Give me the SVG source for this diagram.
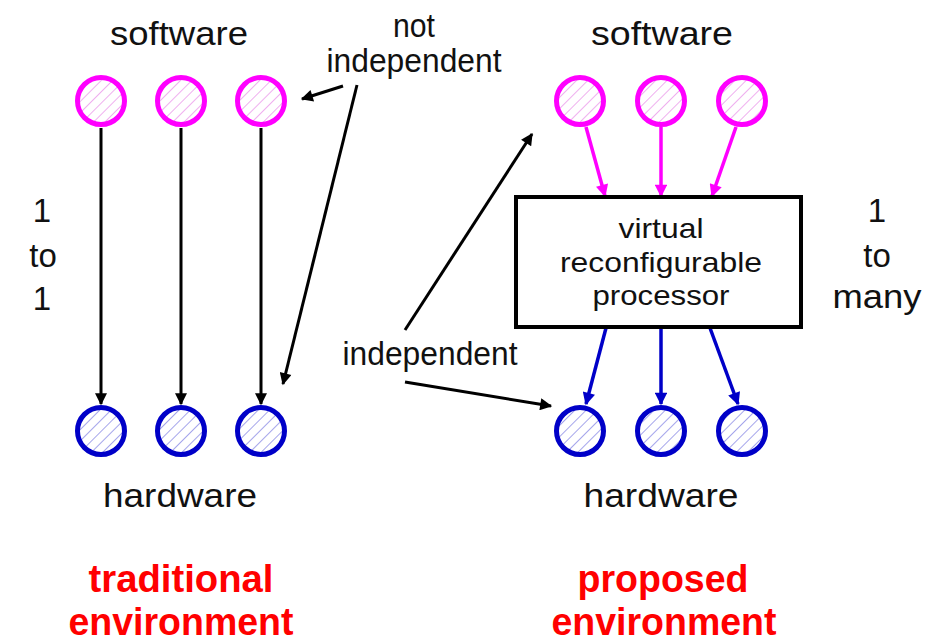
<svg xmlns="http://www.w3.org/2000/svg" width="925" height="642" viewBox="0 0 925 642">
<defs>
<pattern id="hp" patternUnits="userSpaceOnUse" width="8" height="8" patternTransform="rotate(-45)">
<rect width="8" height="8" fill="#fff"/><line x1="0" y1="0" x2="8" y2="0" stroke="#ec9bec" stroke-width="1.6"/>
</pattern>
<pattern id="hb" patternUnits="userSpaceOnUse" width="8" height="8" patternTransform="rotate(-45)">
<rect width="8" height="8" fill="#fff"/><line x1="0" y1="0" x2="8" y2="0" stroke="#8f8fe6" stroke-width="1.6"/>
</pattern>
<marker id="ak" viewBox="0 0 10 10" refX="9" refY="5" markerWidth="4.5" markerHeight="4" orient="auto" markerUnits="strokeWidth"><path d="M0,0 L10,5 L0,10 z" fill="#000"/></marker>
<marker id="am" viewBox="0 0 10 10" refX="9" refY="5" markerWidth="4" markerHeight="3.6" orient="auto" markerUnits="strokeWidth"><path d="M0,0 L10,5 L0,10 z" fill="#ff00ff"/></marker>
<marker id="ab" viewBox="0 0 10 10" refX="9" refY="5" markerWidth="4" markerHeight="3.6" orient="auto" markerUnits="strokeWidth"><path d="M0,0 L10,5 L0,10 z" fill="#0000c8"/></marker>
</defs>
<style>
.t{font-family:"Liberation Sans",Arial,sans-serif;font-size:33px;fill:#111;text-anchor:middle}
.bx{font-size:28px}
.r{font-family:"Liberation Sans",Arial,sans-serif;font-size:38px;font-weight:bold;fill:#ff0000;text-anchor:middle}
.sw{fill:url(#hp);stroke:#ff00ff;stroke-width:5}
.hw{fill:url(#hb);stroke:#0000c8;stroke-width:5}
.k{stroke:#000;stroke-width:3;fill:none;marker-end:url(#ak)}
.m{stroke:#ff00ff;stroke-width:3.5;fill:none;marker-end:url(#am)}
.b{stroke:#0000c8;stroke-width:3.5;fill:none;marker-end:url(#ab)}
</style>
<rect width="925" height="642" fill="#fff"/>
<g id="connectors">
<line class="k" x1="101" y1="128" x2="101" y2="404"/>
<line class="k" x1="181" y1="128" x2="181" y2="404"/>
<line class="k" x1="261" y1="128" x2="261" y2="404"/>
<line class="k" x1="343" y1="86" x2="302" y2="99"/>
<line class="k" x1="357" y1="85" x2="283" y2="384"/>
<line class="k" x1="405" y1="330" x2="532" y2="134"/>
<line class="k" x1="405" y1="382" x2="551" y2="406"/>
<line class="m" x1="586" y1="127" x2="605" y2="196"/>
<line class="m" x1="661" y1="127" x2="661" y2="196"/>
<line class="m" x1="736" y1="127" x2="712" y2="196"/>
<line class="b" x1="606" y1="328" x2="586" y2="404"/>
<line class="b" x1="661" y1="328" x2="661" y2="404"/>
<line class="b" x1="710" y1="328" x2="738" y2="404"/>
</g>
<g id="sw-left-1"><circle class="sw" cx="101" cy="101" r="23.5"/></g>
<g id="sw-left-2"><circle class="sw" cx="181" cy="101" r="23.5"/></g>
<g id="sw-left-3"><circle class="sw" cx="261" cy="101" r="23.5"/></g>
<g id="hw-left-1"><circle class="hw" cx="101" cy="431" r="23.5"/></g>
<g id="hw-left-2"><circle class="hw" cx="181" cy="431" r="23.5"/></g>
<g id="hw-left-3"><circle class="hw" cx="261" cy="431" r="23.5"/></g>
<g id="sw-right-1"><circle class="sw" cx="580" cy="101" r="23.5"/></g>
<g id="sw-right-2"><circle class="sw" cx="661" cy="101" r="23.5"/></g>
<g id="sw-right-3"><circle class="sw" cx="742" cy="101" r="23.5"/></g>
<g id="hw-right-1"><circle class="hw" cx="580" cy="431" r="23.5"/></g>
<g id="hw-right-2"><circle class="hw" cx="661" cy="431" r="23.5"/></g>
<g id="hw-right-3"><circle class="hw" cx="742" cy="431" r="23.5"/></g>
<g id="processor">
<rect x="516" y="197" width="285" height="130" fill="#fff" stroke="#000" stroke-width="4"/>
<text class="t bx" x="661" y="238" textLength="85" lengthAdjust="spacingAndGlyphs">virtual</text>
<text class="t bx" x="661" y="272" textLength="202" lengthAdjust="spacingAndGlyphs">reconfigurable</text>
<text class="t bx" x="661" y="305" textLength="137" lengthAdjust="spacingAndGlyphs">processor</text>
</g>
<g id="labels">
<text class="t" x="179" y="45" textLength="138" lengthAdjust="spacingAndGlyphs">software</text>
<text class="t" x="662" y="45" textLength="142" lengthAdjust="spacingAndGlyphs">software</text>
<text class="t" x="180" y="507" textLength="154" lengthAdjust="spacingAndGlyphs">hardware</text>
<text class="t" x="661" y="507" textLength="155" lengthAdjust="spacingAndGlyphs">hardware</text>
<text class="t" x="414" y="37" textLength="42" lengthAdjust="spacingAndGlyphs">not</text>
<text class="t" x="414" y="72" textLength="175" lengthAdjust="spacingAndGlyphs">independent</text>
<text class="t" x="430" y="365" textLength="175" lengthAdjust="spacingAndGlyphs">independent</text>
<text class="t" x="42" y="222">1</text>
<text class="t" x="43" y="267">to</text>
<text class="t" x="42" y="310">1</text>
<text class="t" x="877" y="222">1</text>
<text class="t" x="877" y="267">to</text>
<text class="t" x="877" y="308" textLength="89" lengthAdjust="spacingAndGlyphs">many</text>
<text class="r" x="181" y="592" textLength="185" lengthAdjust="spacingAndGlyphs">traditional</text>
<text class="r" x="181" y="635" textLength="225" lengthAdjust="spacingAndGlyphs">environment</text>
<text class="r" x="663" y="592" textLength="171" lengthAdjust="spacingAndGlyphs">proposed</text>
<text class="r" x="664" y="635" textLength="225" lengthAdjust="spacingAndGlyphs">environment</text>
</g>
</svg>
